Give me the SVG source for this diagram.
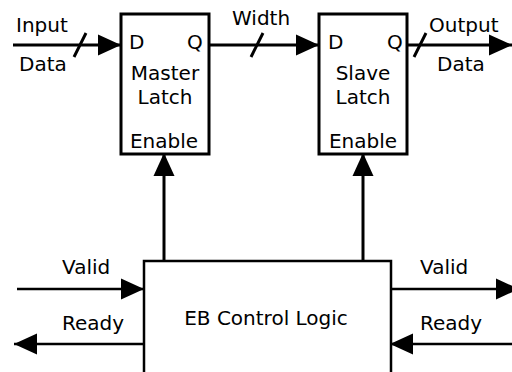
<svg xmlns="http://www.w3.org/2000/svg" width="512" height="372" viewBox="0 0 512 372">
<style>
text{font-family:"DejaVu Sans","Verdana",sans-serif;font-size:20px;fill:#000}
.m{text-anchor:middle}
.box{fill:#fff;stroke:#000;stroke-width:3}
.eb{fill:#fff;stroke:#000;stroke-width:2.5}
.w{stroke:#000;stroke-width:3;fill:none}
.s{stroke:#000;stroke-width:2.5;fill:none}
</style>
<defs>
<marker id="ah" markerUnits="userSpaceOnUse" markerWidth="24" markerHeight="22" refX="23" refY="10.5" orient="auto" viewBox="0 0 24 21">
<path d="M0,0 L23,10.5 L0,21 z" fill="#000"/>
</marker>
</defs>
<g id="master">
<rect class="box" x="121" y="14" width="88" height="140"/>
<text x="129" y="49">D</text>
<text x="187" y="49">Q</text>
<text class="m" x="165" y="80">Master</text>
<text class="m" x="165" y="104">Latch</text>
<text class="m" x="164" y="148">Enable</text>
</g>
<g id="slave">
<rect class="box" x="319" y="14" width="88" height="140"/>
<text x="328" y="49">D</text>
<text x="387" y="49">Q</text>
<text class="m" x="363" y="80">Slave</text>
<text class="m" x="363" y="104">Latch</text>
<text class="m" x="363" y="148">Enable</text>
</g>
<g id="eb">
<rect class="eb" x="144" y="261" width="247" height="120"/>
<text class="m" x="266" y="325">EB Control Logic</text>
</g>
<g id="connectors">
<line class="w" x1="13" y1="45" x2="121" y2="45" marker-end="url(#ah)"/>
<line class="w" x1="74" y1="57" x2="86" y2="33"/>
<line class="w" x1="209" y1="45" x2="319" y2="45" marker-end="url(#ah)"/>
<line class="w" x1="251" y1="57" x2="263" y2="33"/>
<line class="w" x1="407" y1="45" x2="512" y2="45" marker-end="url(#ah)"/>
<line class="w" x1="414" y1="57" x2="426" y2="33"/>
<line class="w" x1="164" y1="261" x2="164" y2="153" marker-end="url(#ah)"/>
<line class="w" x1="363" y1="261" x2="363" y2="153" marker-end="url(#ah)"/>
<line class="s" x1="17" y1="289" x2="144" y2="289" marker-end="url(#ah)"/>
<line class="s" x1="144" y1="344" x2="14" y2="344" marker-end="url(#ah)"/>
<line class="s" x1="391" y1="289" x2="519" y2="289" marker-end="url(#ah)"/>
<line class="s" x1="512" y1="344" x2="390" y2="344" marker-end="url(#ah)"/>
</g>
<g id="labels">
<text x="16" y="32">Input</text>
<text x="19" y="71">Data</text>
<text x="232" y="25">Width</text>
<text x="429" y="32">Output</text>
<text x="437" y="71">Data</text>
<text x="62" y="274">Valid</text>
<text x="62" y="330">Ready</text>
<text x="420" y="274">Valid</text>
<text x="420" y="330">Ready</text>
</g>
</svg>
